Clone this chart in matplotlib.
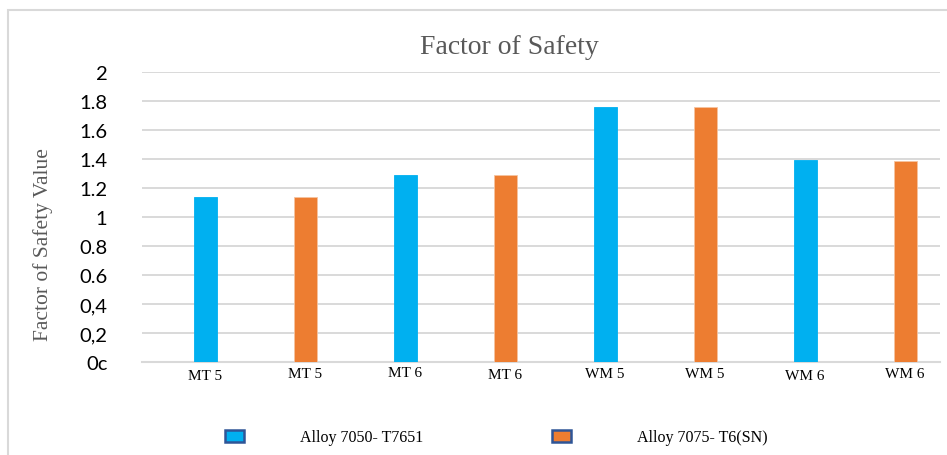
import matplotlib
matplotlib.use("Agg")
import matplotlib.pyplot as plt
import matplotlib.transforms as mtransforms
from matplotlib.patches import Rectangle

categories = ["MT 5", "MT 5", "MT 6", "MT 6", "WM 5", "WM 5", "WM 6", "WM 6"]
values = [1.138, 1.140, 1.290, 1.290, 1.761, 1.756, 1.395, 1.388]
series = ["Alloy 7050- T7651", "Alloy 7075- T6(SN)", "Alloy 7050- T7651", "Alloy 7075- T6(SN)",
          "Alloy 7050- T7651", "Alloy 7075- T6(SN)", "Alloy 7050- T7651", "Alloy 7075- T6(SN)"]
legend_labels = ["Alloy 7050- T7651", "Alloy 7075- T6(SN)"]
ytick_values = [0, 0.2, 0.4, 0.6, 0.8, 1.0, 1.2, 1.4, 1.6, 1.8, 2.0]
ytick_labels = ["0c", "0,2", "0,4", "0.6", "0.8", "1", "1.2", "1.4", "1.6", "1.8", "2"]

colors = {"Alloy 7050- T7651": "#00B0F0", "Alloy 7075- T6(SN)": "#ED7D31"}
edge = {"Alloy 7050- T7651": "#00B0F0", "Alloy 7075- T6(SN)": "#F6C3A0"}

W, H = 947, 456
fig = plt.figure(figsize=(W / 100, H / 100), dpi=100)

# outer chart border
fig.patches.append(Rectangle((8 / W, -0.1), 1.2, 1 - 11 / H + 0.1, transform=fig.transFigure,
                             fill=False, edgecolor="#D9D9D9", linewidth=1.5))

ax = fig.add_axes([142 / W, (H - 363) / H, (940 - 142) / W, (363 - 73) / H])

x = list(range(len(categories)))
for xi, v, s in zip(x, values, series):
    ax.bar(xi, v, width=0.23, color=colors[s], edgecolor=edge[s], linewidth=0.6, zorder=3)

ax.set_xlim(-0.63, 7.35)
ax.set_ylim(0, 2)
ax.set_yticks(ytick_values)
ax.set_yticklabels(ytick_labels, fontfamily="Lato", fontsize=14.5, color="#000000")
ax.tick_params(axis="y", length=0, pad=25)
ax.grid(axis="y", color="#D9D9D9", linewidth=1.4, zorder=0)
ax.set_axisbelow(True)
for sp in ["top", "right", "left"]:
    ax.spines[sp].set_visible(False)
ax.spines["bottom"].set_color("#D9D9D9")
ax.spines["bottom"].set_linewidth(1.5)

ax.set_xticks(x)
ax.set_xticklabels(categories, fontfamily="Liberation Serif", fontsize=11, color="#000000")
ax.tick_params(axis="x", length=0, pad=4.5)
offsets = [-1, 1, 2, 0, 1, 1, -1, 1]
for lbl, off in zip(ax.get_xticklabels(), offsets):
    lbl.set_transform(lbl.get_transform() + mtransforms.ScaledTranslation(0, off / 100, fig.dpi_scale_trans))

fig.text(43 / W, 1 - 245 / H, "Factor of Safety Value", rotation=90, ha="center", va="center",
         fontfamily="Liberation Serif", fontsize=15.5, color="#595959")
fig.text(509 / W, 1 - 47 / H, "Factor of Safety", ha="center", va="center",
         fontfamily="Liberation Serif", fontsize=20, color="#595959")

# legend
leg_pos = [(234.5, 300), (561, 637)]
for (mx, tx), lab in zip(leg_pos, legend_labels):
    fig.patches.append(Rectangle(((mx - 9.5) / W, 1 - 443 / H), 19 / W, 12 / H, transform=fig.transFigure,
                                 facecolor=colors[lab], edgecolor="#2F5597", linewidth=1.8))
    fig.text(tx / W, 1 - 438 / H, lab, ha="left", va="center",
             fontfamily="Liberation Serif", fontsize=11.5, color="#000000")

fig.savefig("out.png", dpi=100)
